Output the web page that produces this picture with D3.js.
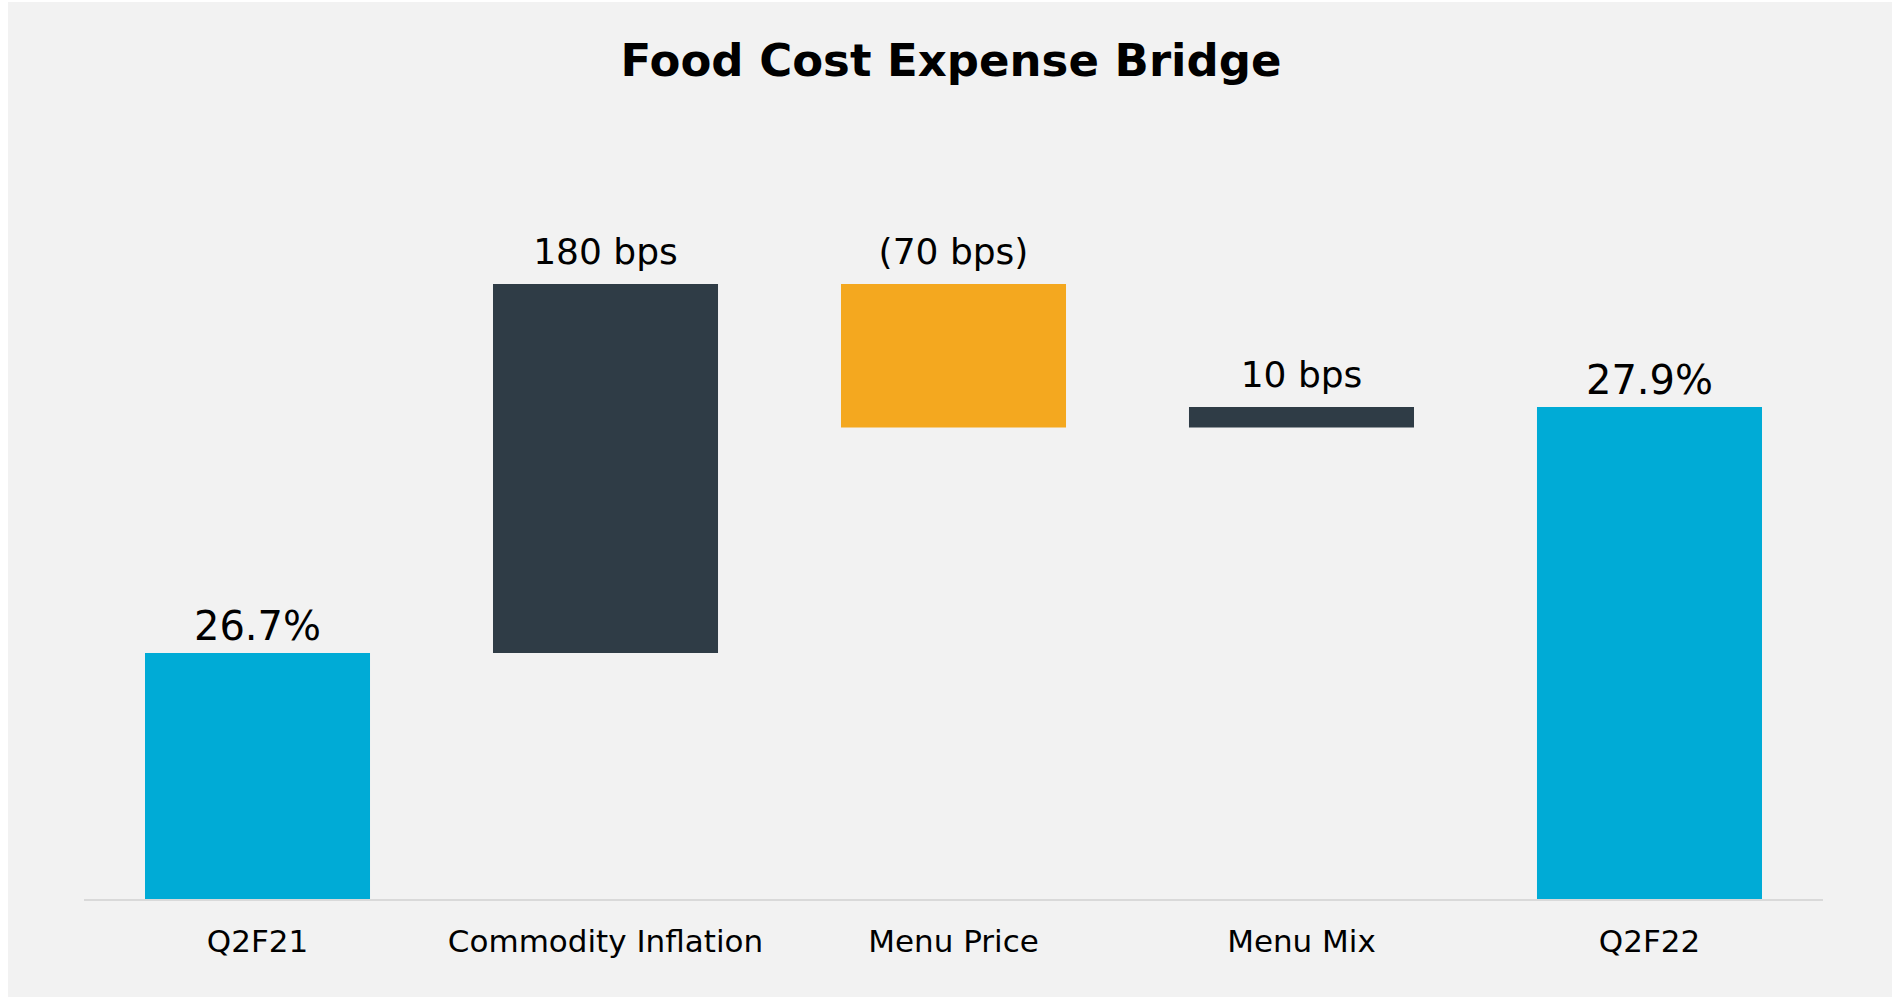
<!DOCTYPE html>
<html>
<head>
<meta charset="utf-8">
<script src="https://cdn.jsdelivr.net/npm/d3@7"></script>
<style>
  body { margin: 0; background: #ffffff; }
  text { font-family: "Century Gothic", "URW Gothic", "DejaVu Sans", sans-serif; fill: #000; }
</style>
</head>
<body>
<div id="chart"></div>
<script>
// chart data
var categories = ["Q2F21", "Commodity Inflation", "Menu Price", "Menu Mix", "Q2F22"];
var changes = [26.7, 1.8, -0.7, 0.1, 27.9];      // totals for first/last, deltas (pts) in between
var kinds = ["total", "up", "down", "up", "total"];
var valueLabels = ["26.7%", "180 bps", "(70 bps)", "10 bps", "27.9%"];

var W = 1893, H = 997;
var margin = {left: 84, right: 70, top: 180, bottom: 98};

var svg = d3.select("#chart")
  .append("svg")
    .attr("width", W)
    .attr("height", H);

// panel background
svg.append("rect")
  .attr("x", 8).attr("y", 2)
  .attr("width", W - 9).attr("height", H - 2)
  .attr("fill", "#f2f2f2");

// title
svg.append("text")
  .attr("x", 951).attr("y", 76)
  .attr("text-anchor", "middle")
  .attr("font-size", "45px")
  .attr("font-weight", "bold")
  .text("Food Cost Expense Bridge");

// build waterfall rows
var running = 0;
var rows = categories.map(function(c, i) {
  var start, end;
  if (kinds[i] == "total") { start = 25.5; end = changes[i]; running = changes[i]; }
  else { start = running; end = running + changes[i]; running = end; }
  return {cat: c, lo: Math.min(start, end), hi: Math.max(start, end), kind: kinds[i], label: valueLabels[i]};
});

var x = d3.scaleBand()
  .domain(categories)
  .range([75.4, 1831.6])
  .paddingInner(0.3534)
  .paddingOuter(0.2);

var y = d3.scaleLinear()
  .domain([25.5, 29])
  .range([H - margin.bottom, H - margin.bottom - 3.5 * 205]);

var color = {total: "#00abd6", up: "#2f3c46", down: "#f4a81f"};

svg.selectAll("rect.bar")
  .data(rows)
  .enter()
  .append("rect")
    .attr("class", "bar")
    .attr("x", function(d) { return x(d.cat); })
    .attr("y", function(d) { return y(d.hi); })
    .attr("width", x.bandwidth())
    .attr("height", function(d) { return y(d.lo) - y(d.hi); })
    .attr("fill", function(d) { return color[d.kind]; });

// value labels
svg.selectAll("text.val")
  .data(rows)
  .enter()
  .append("text")
    .attr("class", "val")
    .attr("x", function(d) { return x(d.cat) + x.bandwidth() / 2; })
    .attr("y", function(d) { return y(d.hi) - (d.kind == "total" ? 13 : 20); })
    .attr("text-anchor", "middle")
    .attr("font-size", function(d) { return d.kind == "total" ? "40px" : "36px"; })
    .text(function(d) { return d.label; });

// x axis
var xAxis = svg.append("g")
  .attr("transform", "translate(0," + (H - margin.bottom + 1) + ")")
  .call(d3.axisBottom(x).tickSize(0).tickPadding(30));
xAxis.select(".domain")
  .attr("stroke", "#d9d9d9")
  .attr("stroke-width", 2)
  .attr("d", "M" + margin.left + ",0H" + (W - margin.right));
xAxis.selectAll("text")
  .attr("font-size", "31px")
  .attr("font-family", null)
  .style("fill", "#000");
</script>
</body>
</html>
